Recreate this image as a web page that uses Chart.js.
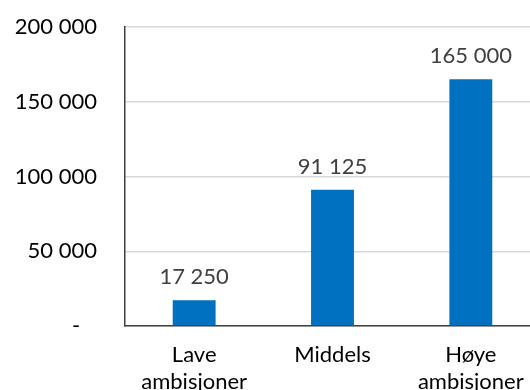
<!DOCTYPE html>
<html>
<head>
<meta charset="utf-8">
<script src="https://cdn.jsdelivr.net/npm/chart.js@4"></script>
<style>
  html, body { margin: 0; padding: 0; overflow: hidden; background: #fff; }
  #wrap { width: 540px; height: 390px; }
</style>
</head>
<body>
<div id="wrap"><canvas id="chart"></canvas></div>
<script>
const categories = [["Lave", "ambisjoner"], "Middels", ["Høye", "ambisjoner"]];
const values = [17250, 91125, 165000];
const yTicks = [0, 50000, 100000, 150000, 200000];

function fmt(v) {
  return String(v).replace(/\B(?=(\d{3})+(?!\d))/g, " ");
}

// draws the value above each bar
const valueLabels = {
  id: "valueLabels",
  afterDatasetsDraw(chart) {
    const ctx = chart.ctx;
    const meta = chart.getDatasetMeta(0);
    ctx.save();
    ctx.font = "22px Lato";
    ctx.fillStyle = "#404040";
    ctx.textAlign = "center";
    ctx.textBaseline = "alphabetic";
    meta.data.forEach((bar, i) => {
      ctx.fillText(fmt(values[i]), bar.x, bar.y - 16);
    });
    ctx.restore();
  }
};

new Chart(document.getElementById("chart"), {
  type: "bar",
  data: {
    labels: categories,
    datasets: [{
      data: values,
      backgroundColor: "#0070C0",
      barPercentage: 0.31,
      categoryPercentage: 1
    }]
  },
  options: {
    responsive: true,
    maintainAspectRatio: false,
    animation: false,
    layout: { padding: { top: 27, left: 0, right: 0, bottom: 0 } },
    plugins: { legend: { display: false }, tooltip: { enabled: false } },
    scales: {
      x: {
        grid: { display: false, drawTicks: false },
        border: { color: "#404040", width: 1.5 },
        ticks: { color: "#000", font: { family: "Lato", size: 22 }, padding: 16, maxRotation: 0 },
        afterFit(scale) { scale.height = 64; }
      },
      y: {
        min: 0,
        max: 200000,
        afterBuildTicks(scale) { scale.ticks = yTicks.map(v => ({ value: v })); },
        grid: { color: "#d9d9d9", lineWidth: 1.5, drawTicks: false },
        border: { color: "#404040", width: 1.5 },
        ticks: {
          color: "#000",
          font: { family: "Lato", size: 22 },
          padding: 28,
          callback: v => v === 0 ? "-   " : fmt(v)
        },
        afterFit(scale) { scale.width = 125; scale.paddingTop = 0; scale.paddingBottom = 0; }
      }
    }
  },
  plugins: [valueLabels]
});
</script>
</body>
</html>
